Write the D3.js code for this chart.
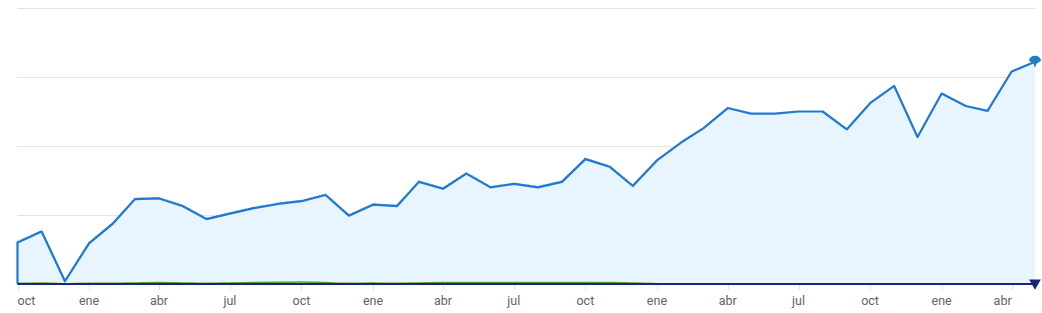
<!DOCTYPE html>
<html>
<head>
<meta charset="utf-8">
<script src="https://cdn.jsdelivr.net/npm/d3@7"></script>
<style>
  body { margin: 0; background: #fff; }
  svg { display: block; font-family: Roboto, "Noto Sans", sans-serif; }
</style>
</head>
<body>
<svg width="1042" height="313"></svg>
<script>
// Monthly values, first month is October
const startMonth = new Date(2021, 9, 1);
const monthLabels = ['ene', 'feb', 'mar', 'abr', 'may', 'jun', 'jul', 'ago', 'sep', 'oct', 'nov', 'dic'];

// main series (blue area)
const mainValues = [60, 76, 4, 59, 88, 123, 124, 113, 94, 102, 110, 116, 120, 129,
  99, 115, 113, 148, 138, 160, 140, 145, 140, 148, 181, 170, 142, 179,
  205, 226, 255, 247, 247, 250, 250, 224, 262, 287, 213, 276, 258, 251, 308, 322];

// dotted series, almost on top of the main one (first part only)
const dottedValues = [61, 77, 5, 60, 89, 124, 125, 114, 95, 103, 111, 117, 121, 130,
  100, 116, 114, 149, 139, 161, 141, 146, 141, 149, 182, 171, 143, 180];

// green series near zero
const greenValues = [1, 1.5, 0.5, 1, 1, 1.5, 2, 1.5, 1, 1.5, 2, 2.5, 3, 2,
  1, 1.5, 1, 1.5, 2, 2, 2, 2, 2, 2, 2, 2, 1.5, 0.5];

// navy series at zero
const navyValues = mainValues.map(() => 0);

const yTicks = [0, 100, 200, 300, 400];

const svg = d3.select('svg');
const margin = { left: 17.5, right: 7, top: 8, bottom: 29 };
const width = 1042, height = 313;

const dates = mainValues.map((_, i) => d3.timeMonth.offset(startMonth, i));

const x = d3.scaleTime()
  .domain([dates[0], dates[dates.length - 1]])
  .range([margin.left, width - margin.right]);

const y = d3.scaleLinear()
  .domain([0, 400])
  .range([height - margin.bottom, margin.top]);

// gridlines
svg.append('g')
  .selectAll('line')
  .data(yTicks.slice(1))
  .join('line')
  .attr('x1', margin.left)
  .attr('x2', width - margin.right)
  .attr('y1', d => Math.round(y(d)) + 0.5)
  .attr('y2', d => Math.round(y(d)) + 0.5)
  .attr('stroke', '#e3e3e3')
  .attr('stroke-width', 1);

// x axis ticks, every 3 months
const tickDates = dates.filter(d => d.getMonth() % 3 === 0);
const axis = svg.append('g');
axis.selectAll('line')
  .data(tickDates)
  .join('line')
  .attr('x1', d => Math.round(x(d)) + 0.5)
  .attr('x2', d => Math.round(x(d)) + 0.5)
  .attr('y1', y(0) + 1)
  .attr('y2', y(0) + 6)
  .attr('stroke', '#e0e0e0');

axis.selectAll('text')
  .data(tickDates)
  .join('text')
  .attr('x', d => x(d))
  .attr('y', 305)
  .attr('text-anchor', (d, i) => i === 0 ? 'start' : (i === tickDates.length - 1 ? 'end' : 'middle'))
  .attr('fill', '#5f6368')
  .style('font-size', '12.5px')
  .text(d => monthLabels[d.getMonth()]);

// blue area
const area = d3.area()
  .x((d, i) => x(dates[i]))
  .y0(y(0))
  .y1(d => y(d));

svg.append('path')
  .datum(mainValues)
  .attr('d', area)
  .attr('fill', '#e8f5fe');

// dotted companion series
const line = d3.line()
  .x((d, i) => x(dates[i]))
  .y(d => y(d));

svg.append('path')
  .datum(dottedValues)
  .attr('d', line)
  .attr('fill', 'none')
  .attr('stroke', '#1f78d1')
  .attr('stroke-width', 1.5)
  .attr('stroke-dasharray', '1.5,1.5')
  .attr('opacity', 0.8);

// main line, starting from the baseline on the left
const mainPoints = [[x(dates[0]), y(0)]].concat(mainValues.map((v, i) => [x(dates[i]), y(v)]));
svg.append('path')
  .attr('d', d3.line()(mainPoints))
  .attr('fill', 'none')
  .attr('stroke', '#1f78d1')
  .attr('stroke-width', 2.2)
  .attr('stroke-linejoin', 'round');

// green series
svg.append('path')
  .datum(greenValues)
  .attr('d', d3.line().x((d, i) => x(dates[i])).y(d => y(d)).curve(d3.curveMonotoneX))
  .attr('fill', 'none')
  .attr('stroke', '#5c9e31')
  .attr('stroke-width', 1.5);

// navy baseline series
svg.append('path')
  .datum(navyValues)
  .attr('d', line)
  .attr('fill', 'none')
  .attr('stroke', '#1a237e')
  .attr('stroke-width', 2.2);

// end markers
const lastX = x(dates[dates.length - 1]);
const lastY = y(mainValues[mainValues.length - 1]);
svg.append('path')
  .attr('d', `M${lastX - 6},${lastY - 1} A6,5 0 0 1 ${lastX + 6},${lastY - 1} L${lastX + 1.5},${lastY + 2} L${lastX},${lastY + 6} L${lastX - 1.5},${lastY + 2} Z`)
  .attr('fill', '#1e7fc2');

svg.append('path')
  .attr('d', d3.symbol(d3.symbolTriangle, 60)())
  .attr('transform', `translate(${lastX},${y(0) - 1}) rotate(180)`)
  .attr('fill', '#1a237e');
</script>
</body>
</html>
